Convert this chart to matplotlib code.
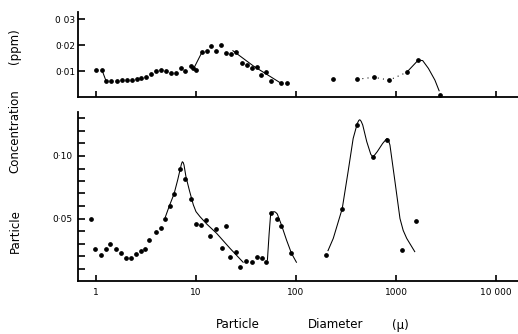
import numpy as np
import matplotlib
matplotlib.use("Agg")
import matplotlib.pyplot as plt
from matplotlib.ticker import FixedLocator, NullLocator

# particle diameter (micron) and concentration (ppm), lower panel
low_d = [0.90, 0.98, 1.13, 1.25, 1.39, 1.58, 1.78, 1.98, 2.22, 2.51, 2.80, 3.11,
         3.37, 3.95, 4.47, 4.93, 5.50, 6.03, 6.92, 7.8, 8.99, 10.0, 11.3, 12.5,
         13.9, 15.8, 18.2, 20.0, 22.0, 25.1, 27.8, 31.6, 36.3, 40.4, 45.3, 50.1,
         56.2, 64.9, 71.1, 89.1, 199.5, 290, 410, 590, 820, 1160, 1570]
low_c = [0.0496, 0.0258, 0.0205, 0.0253, 0.0296, 0.0259, 0.0221, 0.0184, 0.0184,
         0.0219, 0.0237, 0.0253, 0.0328, 0.0392, 0.0427, 0.0493, 0.060, 0.0696,
         0.0893, 0.0813, 0.0656, 0.0455, 0.045, 0.049, 0.0357, 0.0413, 0.0261,
         0.044, 0.0189, 0.0232, 0.0115, 0.016, 0.0152, 0.0195, 0.0187, 0.015,
         0.0541, 0.0493, 0.044, 0.0224, 0.0208, 0.0579, 0.1245, 0.0992, 0.113,
         0.0248, 0.0483]

# hand fitted curves through the lower panel
pk1_d = [4.93, 5.41, 6.03, 6.56, 6.92, 7.15, 7.30, 7.45, 7.59, 7.94, 8.57, 9.40,
         10.0, 10.96, 12.8, 16.1, 21.9, 29.6]
pk1_c = [0.051, 0.060, 0.0696, 0.0808, 0.0888, 0.0935, 0.0954, 0.0948, 0.0928,
         0.0834, 0.0728, 0.061, 0.0555, 0.0515, 0.0456, 0.0381, 0.0261, 0.015]
pk2_d = [51.8, 53.9, 55.7, 58.0, 60.3, 62.5, 65.0, 71.6, 80.4, 90.2, 101]
pk2_c = [0.0168, 0.0381, 0.0528, 0.0550, 0.0555, 0.0550, 0.0536, 0.0448, 0.0328,
         0.0221, 0.015]
pk3_d = [209, 236, 290, 332, 373, 410, 425, 435, 448, 465, 510, 560, 590, 650,
         735, 790, 815, 840, 870, 977, 1096, 1180, 1280, 1540]
pk3_c = [0.0243, 0.0341, 0.0579, 0.0875, 0.114, 0.126, 0.1285, 0.129, 0.1278,
         0.1248, 0.1115, 0.1013, 0.0992, 0.1035, 0.110, 0.1130, 0.114, 0.1125,
         0.1088, 0.0795, 0.050, 0.0405, 0.0341, 0.0235]

# upper panel
up_d = [1.0, 1.15, 1.26, 1.42, 1.61, 1.81, 2.03, 2.28, 2.56, 2.84, 3.16, 3.52,
        3.95, 4.43, 5.01, 5.66, 6.31, 7.03, 7.81, 8.83, 9.39, 10.1, 11.5, 12.8,
        14.0, 15.8, 17.9, 20.0, 22.5, 25.2, 28.6, 32.4, 36.6, 40.4, 44.6, 50.1,
        56.6, 70.8, 81.3, 232, 409, 600, 855, 1280, 1670, 2770]
up_c = [0.0103, 0.0103, 0.0062, 0.0062, 0.0062, 0.0064, 0.0065, 0.0067, 0.0070,
        0.0073, 0.0077, 0.0087, 0.0099, 0.0103, 0.0099, 0.0091, 0.0091, 0.0110,
        0.0099, 0.0118, 0.0113, 0.0104, 0.0173, 0.0176, 0.0196, 0.0176, 0.0199,
        0.0168, 0.0164, 0.0173, 0.0130, 0.0122, 0.0112, 0.0117, 0.0083, 0.0095,
        0.0062, 0.0053, 0.0053, 0.0068, 0.0068, 0.0076, 0.0065, 0.0095, 0.0142,
        0.0009]

drop_d, drop_c = [1.15, 1.26], [0.0103, 0.0062]
rise_d, rise_c = [9.7, 11.5], [0.0117, 0.0173]
fall_d, fall_c = [23.4, 37.6, 70.8], [0.0178, 0.0119, 0.0053]
dot_d, dot_c = [409, 600, 855, 1280], [0.0068, 0.0076, 0.0065, 0.0095]
tail_d = [1280, 1670, 1850, 2110, 2450, 2700]
tail_c = [0.0095, 0.0142, 0.0140, 0.011, 0.0065, 0.0024]

x_ticks = [1, 10, 100, 1000, 10000]
x_labels = ["1", "10", "100", "1000", "10 000"]
up_yticks = [0.01, 0.02, 0.03]
up_ylabels = ["0·01", "0·02", "0 03"]
low_yticks = [0.01 * i for i in range(1, 14)]
low_ylabels = {5: "0·05", 10: "0·10"}

W, H = 518, 334
fig = plt.figure(figsize=(W / 100, H / 100), dpi=100)
ax_up = fig.add_axes([78 / W, (H - 97) / H, 440 / W, 85 / H])
ax_lo = fig.add_axes([78 / W, (H - 281) / H, 440 / W, 169 / H])

mk = dict(ls="none", marker="o", ms=2.4, color="black")
ln = dict(color="black", lw=0.75)

ax_up.plot(up_d, up_c, **mk)
ax_up.plot(drop_d, drop_c, **ln)
ax_up.plot(rise_d, rise_c, **ln)
ax_up.plot(fall_d, fall_c, **ln)
ax_up.plot(dot_d, dot_c, ls=(0, (1, 4)), **ln)
ax_up.plot(tail_d, tail_c, **ln)

ax_lo.plot(low_d, low_c, **mk)
ax_lo.plot(pk1_d, pk1_c, **ln)
ax_lo.plot(pk2_d, pk2_c, **ln)
ax_lo.plot(pk3_d, pk3_c, **ln)

for ax in (ax_up, ax_lo):
    ax.set_xscale("log")
    ax.set_xlim(0.661, 16600)
    ax.spines["top"].set_visible(False)
    ax.spines["right"].set_visible(False)
    ax.spines["left"].set_linewidth(1.3)
    ax.spines["bottom"].set_linewidth(1.3)
    ax.xaxis.set_major_locator(FixedLocator(x_ticks))
    ax.xaxis.set_minor_locator(NullLocator())
    ax.tick_params(axis="both", which="both", direction="in", width=1.2,
                   labelsize=6.5)
    ax.tick_params(axis="x", length=4.5, pad=5)
    ax.tick_params(axis="y", length=5)
    ax.patch.set_visible(False)

ax_up.set_ylim(0, 0.0327)
ax_up.set_yticks(up_yticks)
ax_up.set_yticklabels(up_ylabels)
ax_up.tick_params(axis="y", pad=2)
ax_up.set_xticklabels([])

ax_lo.set_ylim(0, 0.1352)
ax_lo.set_yticks(low_yticks)
ax_lo.set_yticklabels([low_ylabels.get(i, "") for i in range(1, 14)])
ax_lo.tick_params(axis="y", pad=4)
ax_lo.set_xticklabels(x_labels)

# axis titles, word by word
for word, x in [("Particle", 238), ("Diameter", 336), ("(μ)", 400)]:
    fig.text(x / W, (H - 325) / H, word, ha="center", va="center", fontsize=8.5)
for word, y in [("Particle", 231), ("Concentration", 131), ("(ppm)", 46)]:
    fig.text(15 / W, (H - y) / H, word, ha="center", va="center",
             rotation=90, fontsize=8.5)

fig.savefig("out.png", dpi=100)
